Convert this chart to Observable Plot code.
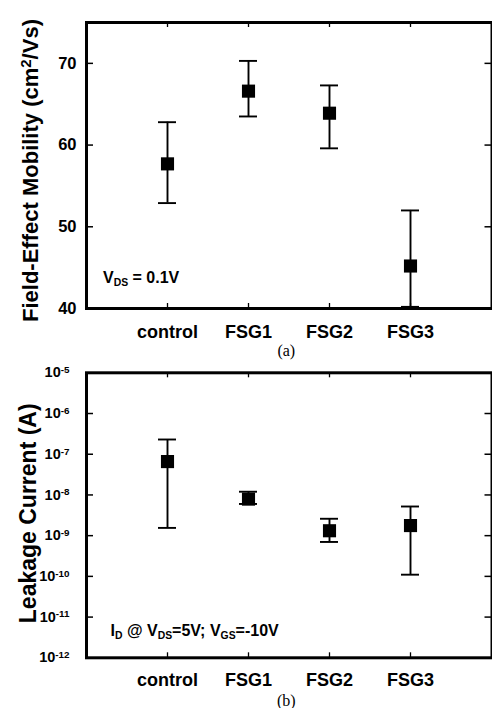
<!DOCTYPE html>
<html>
<head>
<meta charset="utf-8">
<script src="https://cdn.jsdelivr.net/npm/d3@7"></script>
<script src="https://cdn.jsdelivr.net/npm/@observablehq/plot@0.6"></script>
<style>
  html, body { margin: 0; padding: 0; background: white; }
  #chart svg { display: block; }
</style>
</head>
<body>
<div id="chart"></div>
<script>
// ---- data ----
const categories = ["control", "FSG1", "FSG2", "FSG3"];
const mobility   = [57.7, 66.6, 63.9, 45.2];
const mobilityHi = [62.8, 70.3, 67.3, 52.0];
const mobilityLo = [52.9, 63.5, 59.6, 40.2];
const leakage    = [6.6e-8, 7.9e-9, 1.32e-9, 1.77e-9];
const leakageHi  = [2.3e-7, 1.2e-8, 2.6e-9, 5.2e-9];
const leakageLo  = [1.55e-9, 6.0e-9, 7.0e-10, 1.1e-10];
const mobilityTicks = [40, 50, 60, 70];
const leakageTicks  = [1e-12, 1e-11, 1e-10, 1e-9, 1e-8, 1e-7, 1e-6, 1e-5];
const mobilityLabel = "Field-Effect Mobility (cm^{2}/Vs)";
const leakageLabel  = "Leakage Current (A)";
const noteA = "V_{DS} = 0.1V";
const noteB = "I_{D} @ V_{DS}=5V; V_{GS}=-10V";

const tableA = categories.map((c, i) => ({cat: c, v: mobility[i], hi: mobilityHi[i], lo: mobilityLo[i]}));
const tableB = categories.map((c, i) => ({cat: c, v: leakage[i], hi: leakageHi[i], lo: leakageLo[i]}));

const W = 492, H = 354, ML = 86, MR = 0.5;
const FW = W - ML - MR;
const FONT = "Liberation Sans, Arial, Helvetica, sans-serif";

function panel({table, yOpts, yTicks, tickFmt, tickSize, mt, mb, tickPad, xPad, label, labelSize, labelDx, labelDy, note, noteDx, noteDy, caption, capDy}) {
  const FH = H - mt - mb;
  return Plot.plot({
    width: W, height: H,
    marginTop: mt, marginBottom: mb, marginLeft: ML, marginRight: MR,
    style: {fontFamily: FONT, background: "white", overflow: "visible", color: "black"},
    x: {type: "band", domain: categories, paddingInner: 0.78, paddingOuter: 0.89, axis: null},
    y: {...yOpts, axis: null},
    marks: [
      // inward ticks
      Plot.ruleY(yTicks, {y: d => d, insetRight: FW - 7, strokeWidth: 1.5}),
      Plot.ruleY(yTicks, {y: d => d, insetLeft: FW - 7, strokeWidth: 1.5}),
      Plot.ruleX(categories, {x: d => d, insetBottom: FH - 5, strokeWidth: 1.3}),
      Plot.ruleX(categories, {x: d => d, insetTop: FH - 5, strokeWidth: 1.3}),
      // axes labels
      Plot.axisY(yTicks, {tickSize: 0, tickPadding: tickPad, fontSize: tickSize, fontWeight: "bold", label: null, tickFormat: tickFmt}),
      Plot.axisX({tickSize: 0, tickPadding: xPad, fontSize: 18, fontWeight: "bold", label: null}),
      // error bars
      Plot.ruleX(table, {x: "cat", y1: "lo", y2: "hi", strokeWidth: 1.9}),
      Plot.tickY(table, {x: "cat", y: "hi", strokeWidth: 1.9}),
      Plot.tickY(table, {x: "cat", y: "lo", strokeWidth: 1.9}),
      Plot.dot(table, {x: "cat", y: "v", symbol: "square", r: 7.4, fill: "black", stroke: null}),
      Plot.frame({strokeWidth: 3}),
      // y label
      Plot.text([label], {frameAnchor: "left", textAnchor: "middle", lineAnchor: "middle", rotate: -90, dx: labelDx, dy: labelDy, fontSize: labelSize, fontWeight: "bold"}),
      // annotation
      Plot.text([note], {frameAnchor: "bottom-left", textAnchor: "start", lineAnchor: "middle", dx: noteDx, dy: noteDy, fontSize: 16, fontWeight: "bold"}),
      // caption
      Plot.text([caption], {frameAnchor: "bottom", textAnchor: "middle", lineAnchor: "middle", dx: -3, dy: capDy, fontSize: 16, fontFamily: "Liberation Serif"})
    ]
  });
}

const chartA = panel({
  table: tableA,
  yOpts: {domain: [40, 75]},
  yTicks: mobilityTicks,
  tickFmt: d => String(d),
  tickSize: 16.5,
  mt: 22, mb: 46, tickPad: 10, xPad: 16.5,
  label: mobilityLabel, labelSize: 22, labelDx: -56, labelDy: 5,
  note: noteA, noteDx: 16.5, noteDy: -31,
  caption: "(a)", capDy: 42
});
const chartB = panel({
  table: tableB,
  yOpts: {type: "log", domain: [1e-12, 1e-5]},
  yTicks: leakageTicks,
  tickFmt: d => `10^{${Math.round(Math.log10(d))}}`,
  tickSize: 14.5,
  mt: 18.3, mb: 50.7, tickPad: 17, xPad: 15.5,
  label: leakageLabel, labelSize: 23, labelDx: -57.5, labelDy: -2,
  note: noteB, noteDx: 24, noteDy: -27.4,
  caption: "(b)", capDy: 42.7
});

const host = document.getElementById("chart");
host.appendChild(chartA);
host.appendChild(chartB);

// rich text: ^{..} superscript, _{..} subscript
const SVGNS = "http://www.w3.org/2000/svg";
function rich(svg) {
  svg.querySelectorAll("text").forEach(t => {
    const s = t.textContent;
    if (!/[\^_]\{/.test(s)) return;
    const F = parseFloat(getComputedStyle(t).fontSize) || 14;
    const parts = [];
    const re = /([\^_])\{([^}]*)\}/g;
    let last = 0, m;
    while ((m = re.exec(s))) {
      if (m.index > last) parts.push({txt: s.slice(last, m.index), kind: null});
      parts.push({txt: m[2], kind: m[1]});
      last = re.lastIndex;
    }
    if (last < s.length) parts.push({txt: s.slice(last), kind: null});
    while (t.firstChild) t.removeChild(t.firstChild);
    let cur = 0;
    for (const p of parts) {
      const sp = document.createElementNS(SVGNS, "tspan");
      let shift = 0, size = F;
      if (p.kind === "^") { shift = -0.3 * F; size = 0.68 * F; }
      if (p.kind === "_") { shift = 0.2 * F; size = 0.65 * F; }
      if (shift !== cur) sp.setAttribute("dy", shift - cur);
      cur = shift;
      sp.setAttribute("font-size", size);
      sp.textContent = p.txt;
      t.appendChild(sp);
    }
  });
}
rich(chartA);
rich(chartB);
</script>
</body>
</html>
